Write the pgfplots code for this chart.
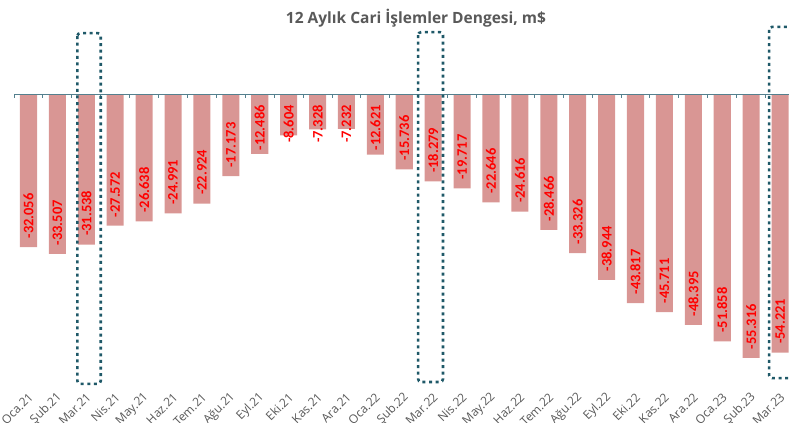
\documentclass[border=0pt]{standalone}
\usepackage{pgfplots}
\pgfplotsset{compat=1.18}
\usepackage{pgfplotstable}
\usepackage{fontspec}
\setmainfont{Carlito}
\newfontfamily\osans{Open Sans}
\definecolor{barcol}{RGB}{217,150,148}
\definecolor{zerocol}{RGB}{84,128,142}
\definecolor{boxcol}{RGB}{31,89,104}
\definecolor{txtgray}{RGB}{89,89,89}
\definecolor{lblred}{RGB}{255,0,0}
\pgfplotstableread{
x v
0 -32.056
1 -33.507
2 -31.538
3 -27.572
4 -26.638
5 -24.991
6 -22.924
7 -17.173
8 -12.486
9 -8.604
10 -7.328
11 -7.232
12 -12.621
13 -15.736
14 -18.279
15 -19.717
16 -22.646
17 -24.616
18 -28.466
19 -33.326
20 -38.944
21 -43.817
22 -45.711
23 -48.395
24 -51.858
25 -55.316
26 -54.221
}\cadata
\begin{document}
\begin{tikzpicture}
\begin{axis}[
  at={(0bp,33bp)}, anchor=south west,
  scale only axis, width=789bp, height=390bp,
  xmin=-0.986, xmax=26.31, ymin=-62.08, ymax=19.85,
  axis line style={draw=none}, tick style={draw=none},
  major tick length=0pt,
  ytick=\empty,
  xtick={0,...,26},
  xticklabels={Oca.21,Şub.21,Mar.21,Nis.21,May.21,Haz.21,Tem.21,Ağu.21,Eyl.21,Eki.21,Kas.21,Ara.21,Oca.22,Şub.22,Mar.22,Nis.22,May.22,Haz.22,Tem.22,Ağu.22,Eyl.22,Eki.22,Kas.22,Ara.22,Oca.23,Şub.23,Mar.23},
  xticklabel style={xshift=2.5bp, yshift=-5bp, rotate=45, anchor=east, inner sep=0pt, font=\osans\fontsize{12bp}{14bp}\selectfont, text=txtgray},
  clip=false,
]
\addplot[ybar, bar width=0.59, fill=barcol, draw=none] table[x=x, y=v] {\cadata};
% labels inside end
\addplot[draw=none, mark=none, skip coords between index={8}{13},
  point meta=\thisrow{v},
  nodes near coords={\pgfmathprintnumber[fixed,fixed zerofill,precision=3,assume math mode=true]{\pgfplotspointmeta}},
  every node near coord/.append style={yshift=8.5bp, rotate=90, anchor=west, inner sep=0pt, text=lblred, font=\bfseries\fontsize{14.5bp}{16bp}\selectfont}]
  table[x=x, y=v] {\cadata};
% labels for short bars, from the zero line
\addplot[draw=none, mark=none, restrict x to domain=7.5:12.5,
  point meta=\thisrow{v},
  nodes near coords={\pgfmathprintnumber[fixed,fixed zerofill,precision=3,assume math mode=true]{\pgfplotspointmeta}},
  every node near coord/.append style={yshift=-10.5bp, rotate=90, anchor=east, inner sep=0pt, text=lblred, font=\bfseries\fontsize{14.5bp}{16bp}\selectfont}]
  table[x=x, y expr=0] {\cadata};
\draw[zerocol, line width=1.4bp] (axis cs:-0.5,0) -- (axis cs:27,0);
\pgfplotsinvokeforeach{0,...,26}{
  \draw[zerocol, line width=1bp] (axis cs:#1-0.5,0) -- ([yshift=-3.5bp]axis cs:#1-0.5,0);
}
\draw[boxcol, line width=2.6bp, dash pattern=on 3bp off 3.6bp, rounded corners=3bp] (axis cs:1.69,12.9) rectangle (axis cs:2.5,-60.8);
\draw[boxcol, line width=2.6bp, dash pattern=on 3bp off 3.6bp, rounded corners=3bp] (axis cs:13.48,13.1) rectangle (axis cs:14.34,-60.4);
\draw[boxcol, line width=2.6bp, dash pattern=on 3bp off 3.6bp, rounded corners=3bp] (axis cs:25.62,14.2) rectangle (axis cs:26.8,-59.6);
\end{axis}
\node[font=\osans\bfseries\fontsize{15.5bp}{17bp}\selectfont, text=txtgray] at (416bp,405bp) {12 Aylık Cari İşlemler Dengesi, m\$};
\pgfresetboundingbox
\useasboundingbox (0,0) rectangle (789bp,423bp);
\end{tikzpicture}
\end{document}
